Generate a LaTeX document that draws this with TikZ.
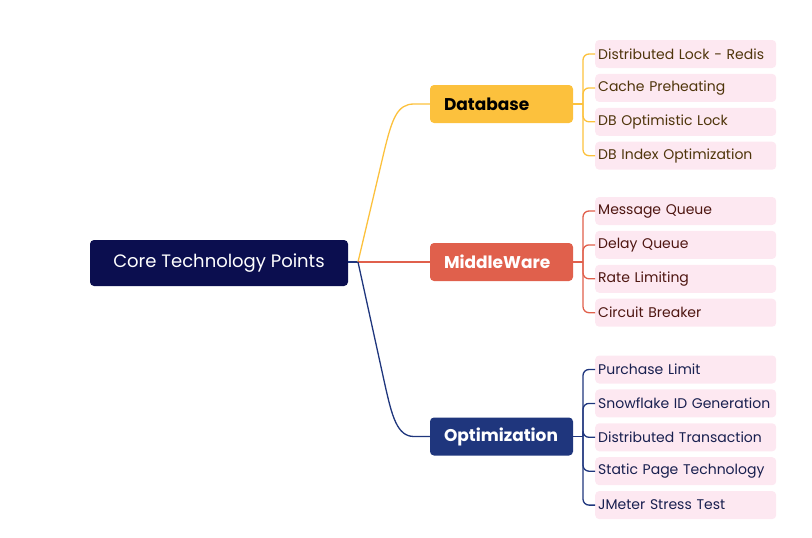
\documentclass[tikz,border=0pt]{standalone}
\usepackage{fontspec}
\setmainfont{Poppins}
\usetikzlibrary{positioning}
\definecolor{rootblue}{HTML}{0B0E4F}
\definecolor{dbyellow}{HTML}{FCC13D}
\definecolor{mwred}{HTML}{E0604C}
\definecolor{optblue}{HTML}{1F367D}
\definecolor{leafpink}{HTML}{FDE8F1}
\definecolor{dbtext}{HTML}{4F350B}
\definecolor{mwtext}{HTML}{4E1611}
\definecolor{opttext}{HTML}{181F4F}
\tikzset{x=1pt, y=-1pt, node distance=5.5pt, font=\fontsize{14}{14}\selectfont}
\tikzstyle{root} = [fill=rootblue, text=white, rectangle, rounded corners=4pt, minimum width=258pt, minimum height=46pt, font=\fontsize{18}{18}\selectfont]
\tikzstyle{branch} = [rectangle, rounded corners=4pt, minimum width=143pt, minimum height=38pt, text width=115pt, align=left, font=\fontsize{17}{17}\selectfont\bfseries]
\tikzstyle{leaf} = [fill=leafpink, rectangle, rounded corners=4pt, minimum width=181pt, minimum height=28pt, text width=175pt, align=left, inner xsep=3pt, inner ysep=4pt]
\tikzstyle{link} = [line width=1.3pt, rounded corners=6pt]

\begin{document}
\begin{tikzpicture}
    \useasboundingbox (0,0) rectangle (812,538);
    \node [root] (core) at (219,263) {Core Technology Points};
    \node [branch, fill=dbyellow, text=black] (db) at (501.5,104) {Database};
    \node [branch, fill=mwred, text=white] (mw) at (501.5,262) {MiddleWare};
    \node [branch, fill=optblue, text=white] (opt) at (501.5,436.5) {Optimization};

    % database leaves
    \node [leaf, text=dbtext, anchor=west] (db1) at (595,54) {Distributed Lock - Redis};
    \node [leaf, text=dbtext, below=of db1] (db2) {Cache Preheating};
    \node [leaf, text=dbtext, below=of db2] (db3) {DB Optimistic Lock};
    \node [leaf, text=dbtext, below=of db3] (db4) {DB Index Optimization};

    % middleware leaves
    \node [leaf, text=mwtext, anchor=west] (mw1) at (595,211) {Message Queue};
    \node [leaf, text=mwtext, below=of mw1] (mw2) {Delay Queue};
    \node [leaf, text=mwtext, below=of mw2] (mw3) {Rate Limiting};
    \node [leaf, text=mwtext, below=of mw3] (mw4) {Circuit Breaker};

    % optimization leaves
    \node [leaf, text=opttext, anchor=west] (opt1) at (595,369.5) {Purchase Limit};
    \node [leaf, text=opttext, below=of opt1] (opt2) {Snowflake ID Generation};
    \node [leaf, text=opttext, below=of opt2] (opt3) {Distributed Transaction};
    \node [leaf, text=opttext, below=of opt3] (opt4) {Static Page Technology};
    \node [leaf, text=opttext, below=of opt4] (opt5) {JMeter Stress Test};

    \coordinate (fork) at (358,262);
    \draw [line width=1.3pt, optblue] (core.east |- fork) -- (fork);
    \draw [line width=1.3pt, dbyellow] (fork) -- (384,152) .. controls (392,119) and (397,104) .. (414,104) -- (db.west);
    \draw [line width=1.3pt, mwred] (fork) -- (mw.west);
    \draw [line width=1.3pt, optblue] (fork) -- (385,385) .. controls (392,416) and (397,436.5) .. (414,436.5) -- (opt.west);

    \coordinate (dbfork) at (583,104);
    \draw [link, dbyellow] (db.east) -- (dbfork);
    \draw [link, dbyellow] (dbfork) |- (db1.west);
    \draw [link, dbyellow] (dbfork) |- (db2.west);
    \draw [link, dbyellow] (dbfork) |- (db3.west);
    \draw [link, dbyellow] (dbfork) |- (db4.west);

    \coordinate (mwfork) at (583,262);
    \draw [link, mwred] (mw.east) -- (mwfork);
    \draw [link, mwred] (mwfork) |- (mw1.west);
    \draw [link, mwred] (mwfork) |- (mw2.west);
    \draw [link, mwred] (mwfork) |- (mw3.west);
    \draw [link, mwred] (mwfork) |- (mw4.west);

    \coordinate (optfork) at (583,436.5);
    \draw [link, optblue] (opt.east) -- (optfork);
    \draw [link, optblue] (optfork) |- (opt1.west);
    \draw [link, optblue] (optfork) |- (opt2.west);
    \draw [link, optblue] (optfork) |- (opt3.west);
    \draw [link, optblue] (optfork) |- (opt4.west);
    \draw [link, optblue] (optfork) |- (opt5.west);
\end{tikzpicture}
\end{document}
